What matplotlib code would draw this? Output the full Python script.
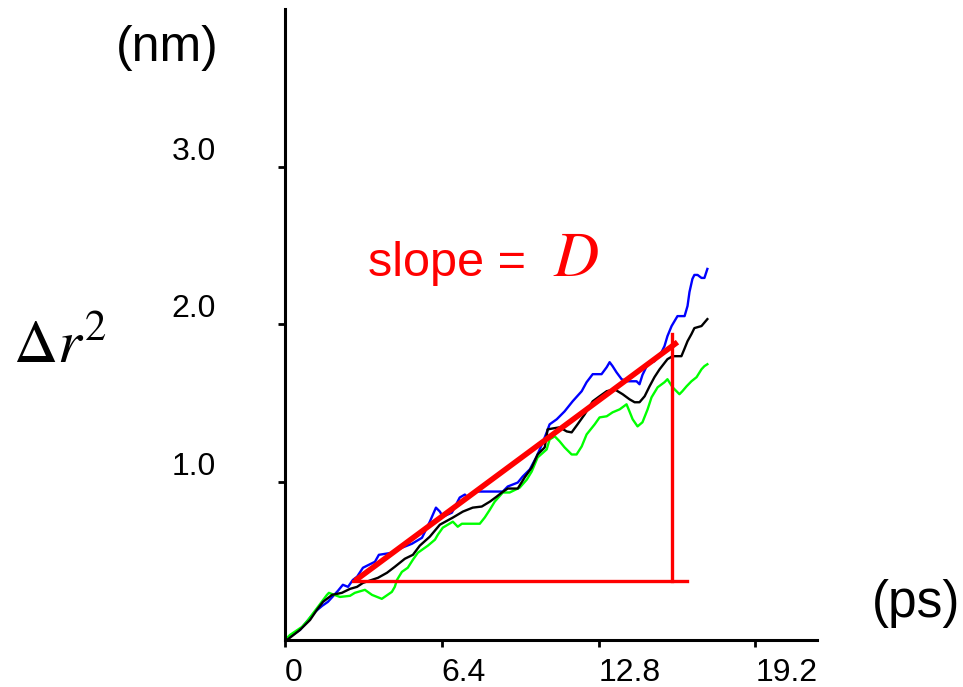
import matplotlib
matplotlib.use("Agg")
import matplotlib.pyplot as plt

plt.rcParams['font.family'] = ['Liberation Sans', 'DejaVu Sans']
plt.rcParams['mathtext.fontset'] = 'stix'

# time (ps) and mean square displacement (nm^2)
black_t = [0.0, 0.08, 0.61, 1.02, 1.30, 1.55, 1.92, 2.32, 2.65, 2.94, 3.18, 3.79, 4.16, 4.48,
           4.89, 5.22, 5.50, 5.91, 6.32, 6.85, 7.26, 7.66, 8.03, 8.36, 8.64, 8.85, 9.09, 9.50,
           9.78, 10.07, 10.31, 10.60, 10.72, 10.93, 11.21, 11.50, 11.70, 11.94, 12.23, 12.56,
           12.84, 13.13, 13.45, 13.78, 14.06, 14.27, 14.47, 14.68, 14.88, 15.08, 15.29, 15.61,
           15.82, 16.18, 16.30, 16.43, 16.59, 16.71, 17.00, 17.24]
black_r = [0.0, 0.0, 0.064, 0.127, 0.191, 0.242, 0.286, 0.299, 0.324, 0.337, 0.362, 0.394, 0.426,
           0.464, 0.515, 0.540, 0.598, 0.655, 0.731, 0.776, 0.814, 0.839, 0.846, 0.877, 0.909,
           0.935, 0.960, 0.960, 1.030, 1.093, 1.176, 1.221, 1.335, 1.341, 1.348, 1.322, 1.316,
           1.367, 1.430, 1.513, 1.545, 1.577, 1.589, 1.558, 1.526, 1.507, 1.507, 1.545, 1.608,
           1.666, 1.716, 1.780, 1.799, 1.799, 1.844, 1.894, 1.939, 1.977, 1.990, 2.034]

blue_t = [0.0, 0.61, 1.22, 1.51, 1.75, 2.16, 2.36, 2.57, 2.77, 2.94, 3.18, 3.67, 3.83, 4.36,
          4.77, 5.18, 5.59, 5.91, 6.16, 6.32, 6.44, 6.81, 7.13, 7.34, 7.46, 7.75, 8.28, 8.89,
          9.09, 9.50, 9.70, 9.99, 10.27, 10.52, 10.68, 10.80, 11.09, 11.41, 11.74, 12.11, 12.31,
          12.56, 12.92, 13.13, 13.25, 13.37, 13.53, 13.74, 13.98, 14.35, 14.47, 14.59, 14.80,
          15.08, 15.37, 15.49, 15.61, 15.78, 16.02, 16.31, 16.43, 16.51, 16.63, 16.71, 16.84,
          17.00, 17.12, 17.24]
blue_r = [0.0, 0.064, 0.178, 0.216, 0.242, 0.312, 0.350, 0.337, 0.381, 0.401, 0.458, 0.496,
          0.540, 0.553, 0.585, 0.610, 0.648, 0.750, 0.839, 0.814, 0.782, 0.807, 0.903, 0.922,
          0.903, 0.941, 0.941, 0.941, 0.973, 0.998, 1.036, 1.081, 1.163, 1.252, 1.316, 1.367,
          1.399, 1.449, 1.513, 1.577, 1.634, 1.685, 1.685, 1.729, 1.761, 1.736, 1.697, 1.653,
          1.640, 1.640, 1.621, 1.680, 1.748, 1.767, 1.825, 1.863, 1.926, 1.990, 2.053, 2.053,
          2.117, 2.206, 2.289, 2.314, 2.314, 2.295, 2.295, 2.352]

green_t = [0.0, 0.20, 0.69, 0.94, 1.71, 1.79, 2.24, 2.65, 2.85, 3.26, 3.55, 3.95, 4.36, 4.48,
           4.57, 4.77, 5.01, 5.22, 5.42, 5.83, 6.12, 6.24, 6.44, 6.85, 7.05, 7.22, 7.95, 8.15,
           8.36, 8.56, 8.89, 9.17, 9.58, 9.87, 10.07, 10.31, 10.68, 10.80, 11.01, 11.21, 11.41,
           11.70, 11.90, 12.11, 12.31, 12.64, 12.84, 13.13, 13.37, 13.66, 13.94, 14.06, 14.19,
           14.39, 14.59, 14.80, 14.96, 15.21, 15.49, 15.61, 15.82, 16.10, 16.22, 16.39, 16.59,
           16.80, 17.00, 17.12, 17.24]
green_r = [0.0, 0.032, 0.083, 0.127, 0.286, 0.299, 0.273, 0.280, 0.299, 0.318, 0.286, 0.261,
           0.305, 0.337, 0.381, 0.432, 0.458, 0.509, 0.553, 0.598, 0.636, 0.668, 0.712, 0.750,
           0.718, 0.737, 0.737, 0.776, 0.826, 0.877, 0.935, 0.935, 0.966, 1.017, 1.068, 1.157,
           1.208, 1.271, 1.291, 1.259, 1.221, 1.176, 1.176, 1.227, 1.303, 1.367, 1.411, 1.418,
           1.443, 1.462, 1.494, 1.449, 1.399, 1.354, 1.380, 1.462, 1.538, 1.602, 1.634, 1.653,
           1.602, 1.558, 1.577, 1.608, 1.640, 1.666, 1.716, 1.736, 1.748]

# slope triangle
fit_t = [2.85, 16.02]
fit_r = [0.375, 1.888]
base_t = [2.77, 16.39]
base_r = 0.375
rise_t = 15.78
rise_r = [0.375, 1.94]

x_ticks = [0, 6.4, 12.8, 19.2]
x_labels = ['0', '6.4', '12.8', '19.2']
y_ticks = [1.0, 2.0, 3.0]
y_labels = ['1.0', '2.0', '3.0']

fig = plt.figure(figsize=(9.63, 6.87), dpi=100)
ax = fig.add_axes([0.296, 0.0684, 0.552, 0.9186])

ax.plot(green_t, green_r, color='#00ff00', lw=1.7, zorder=2)
ax.plot(black_t, black_r, color='black', lw=1.7, zorder=3)
ax.plot(blue_t, blue_r, color='#0000ff', lw=1.7, zorder=1)

ax.plot(base_t, [base_r, base_r], color='red', lw=2.4, zorder=4)
ax.plot([rise_t, rise_t], rise_r, color='red', lw=2.4, zorder=4)
ax.plot(fit_t, fit_r, color='red', lw=4, zorder=5, solid_capstyle='butt')

ax.set_xlim(0, 21.7)
ax.set_ylim(0, 4.0)
ax.spines['top'].set_visible(False)
ax.spines['right'].set_visible(False)
ax.spines['left'].set_linewidth(2.2)
ax.spines['bottom'].set_linewidth(2.2)

ax.set_xticks(x_ticks)
ax.set_xticklabels(x_labels, fontsize=23)
ax.set_yticks(y_ticks)
ax.set_yticklabels(y_labels, fontsize=23)
ax.tick_params(axis='x', direction='out', length=5, width=2, pad=8)
ax.tick_params(axis='y', direction='out', length=5, width=2, pad=45)
for lab in ax.get_xticklabels():
    lab.set_horizontalalignment('left')
for lab in ax.get_yticklabels():
    lab.set_verticalalignment('bottom')

ax.text(3.38, 2.31, 'slope =', color='red', fontsize=35, ha='left', va='baseline')
ax.text(10.95, 2.31, r'$D$', color='red', fontsize=45, ha='left', va='baseline')

fig.text(0.174, 0.93, '(nm)', fontsize=36, ha='center', va='center')
fig.text(0.951, 0.122, '(ps)', fontsize=37, ha='center', va='center')
fig.text(0.014, 0.472, r'$\Delta r^2$', fontsize=44, ha='left', va='baseline')

fig.savefig('out.png', dpi=100)
